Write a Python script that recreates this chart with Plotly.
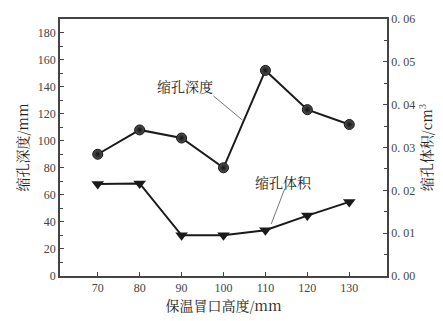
import plotly.graph_objects as go

heights = [70, 80, 90, 100, 110, 120, 130]
depth_mm = [90, 108, 102, 80, 152, 123, 112]
volume_cm3 = [0.0215, 0.0216, 0.0095, 0.0095, 0.0107, 0.0141, 0.0173]

y_ticks = [0, 20, 40, 60, 80, 100, 120, 140, 160, 180]
y2_ticks = [0.0, 0.01, 0.02, 0.03, 0.04, 0.05, 0.06]
y2_labels = ["0. 00", "0. 01", "0. 02", "0. 03", "0. 04", "0. 05", "0. 06"]
x_ticks = [70, 80, 90, 100, 110, 120, 130]

num_font = dict(family="Liberation Serif, DejaVu Serif, serif", size=12, color="#444")
cjk_font = dict(family="Noto Serif CJK SC, Noto Sans CJK SC, serif", size=14, color="#222")
axis_col = "#444"

fig = go.Figure()
fig.add_trace(go.Scatter(
    x=heights, y=depth_mm, mode="lines+markers",
    line=dict(color="#1a1a1a", width=2),
    marker=dict(symbol="circle", size=10, color="#555",
                gradient=dict(type="radial", color="#111"),
                line=dict(color="#111", width=1)),
    yaxis="y", showlegend=False))
fig.add_trace(go.Scatter(
    x=heights, y=volume_cm3, mode="lines+markers",
    line=dict(color="#1a1a1a", width=2),
    marker=dict(symbol="triangle-down", size=11, color="#1a1a1a"),
    yaxis="y2", showlegend=False))

fig.update_layout(
    width=443, height=321,
    margin=dict(l=60, r=53, t=13, b=40),
    paper_bgcolor="white", plot_bgcolor="white",
    xaxis=dict(range=[61, 139], tickvals=x_ticks, ticks="inside", ticklen=4,
               tickcolor=axis_col, showline=True, linecolor=axis_col, linewidth=1.5,
               mirror=True, showgrid=False, zeroline=False, tickfont=num_font,
               title=dict(text="保温冒口高度/mm", font=cjk_font, standoff=4)),
    yaxis=dict(range=[0, 190], tickvals=y_ticks, ticks="inside", ticklen=4,
               tickcolor=axis_col, showline=True, linecolor=axis_col, linewidth=1.5,
               showgrid=False, zeroline=False, tickfont=num_font,
               minor=dict(dtick=10, ticks="inside", ticklen=3, tickcolor=axis_col),
               title=dict(text="缩孔深度/mm", font=cjk_font, standoff=6)),
    yaxis2=dict(range=[0, 0.06], tickvals=y2_ticks, ticktext=y2_labels,
                overlaying="y", side="right", ticks="inside", ticklen=4,
                tickcolor=axis_col, showline=True, linecolor=axis_col, linewidth=1.5,
                showgrid=False, zeroline=False, tickfont=num_font,
                minor=dict(dtick=0.005, ticks="inside", ticklen=3, tickcolor=axis_col),
                title=dict(text="缩孔体积/cm<sup>3</sup>", font=cjk_font, standoff=6)),
)

fig.add_annotation(x=90.9, y=140.2, xref="x", yref="y", text="缩孔深度",
                   showarrow=False, font=cjk_font)
fig.add_annotation(x=114.2, y=69.5, xref="x", yref="y", text="缩孔体积",
                   showarrow=False, font=cjk_font)
fig.add_shape(type="line", xref="x", yref="y", x0=97.6, y0=133.1, x1=104.5, y1=115.3,
              line=dict(color="#777", width=1))
fig.add_shape(type="line", xref="x", yref="y", x0=114.6, y0=64.5, x1=111.4, y1=38.5,
              line=dict(color="#777", width=1))

fig.write_html("out.html")
